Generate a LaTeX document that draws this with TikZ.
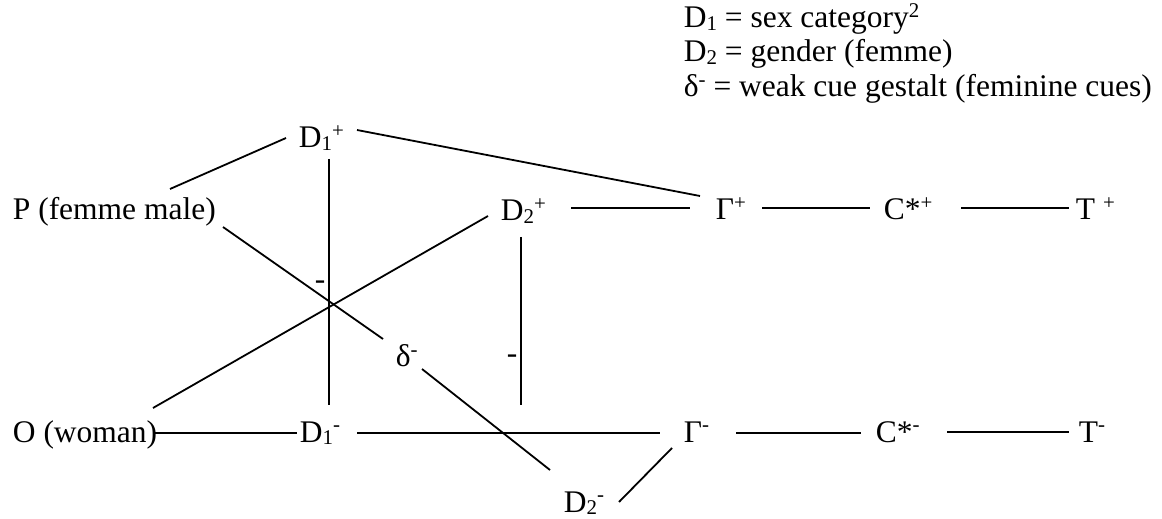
\documentclass[tikz,border=0pt]{standalone}
\usepackage{fontspec}
\setmainfont{LiberationSerif-Regular.ttf}
\newcommand\dsub[1]{\raisebox{-2.5bp}{\fontsize{21}{21}\selectfont #1}}
\newcommand\dsup[1]{\raisebox{10.5bp}{\fontsize{21}{21}\selectfont #1}}
\begin{document}
\begin{tikzpicture}[x=1bp,y=-1bp,line width=1.8bp,
  lbl/.style={inner sep=0pt,anchor=base west,font=\fontsize{31.6}{36}\selectfont}
]
  \useasboundingbox (0,0) rectangle (1162,519);
  % Legend
  \node[lbl] (leg1) at (683,28) {D\dsub{1} = sex category\dsup{2}};
  \node[lbl] (leg2) at (683,62) {D\dsub{2} = gender (femme)};
  \node[lbl] (leg3) at (683,97) {δ\dsup{-} = weak cue gestalt (feminine cues)};
  % Top row
  \node[lbl] (d1p) at (298,148) {D\dsub{1}\dsup{+}};
  \node[lbl] (p) at (12,220) {P (femme male)};
  \node[lbl] (d2p) at (500,221) {D\dsub{2}\dsup{+}};
  \node[lbl] (gp) at (715,220) {Γ\dsup{+}};
  \node[lbl] (cp) at (883,220) {C*\dsup{+}};
  \node[lbl] (tp) at (1075,220) {T \dsup{+}};
  % Middle
  \node[lbl] (dl) at (395,367) {δ\dsup{-}};
  \node[lbl,anchor=center] (m1) at (320,285) {-};
  \node[lbl,anchor=center] (m2) at (512,359) {-};
  % Bottom row
  \node[lbl] (o) at (12,442) {O (woman)};
  \node[lbl] (d1m) at (299,442) {D\dsub{1}\dsup{-}};
  \node[lbl] (gm) at (683,442) {Γ\dsup{-}};
  \node[lbl] (cm) at (875,442) {C*\dsup{-}};
  \node[lbl] (tm) at (1078,442) {T\dsup{-}};
  \node[lbl] (d2m) at (563,512) {D\dsub{2}\dsup{-}};
  \coordinate (d2end) at (521,405);
  % Connectors
  \draw ([shift={(158,-31)}]p.base west) -- ([shift={(-12,-10)}]d1p.base west);
  \draw ([shift={(59,-18)}]d1p.base west) -- ([shift={(-15,-24)}]gp.base west);
  \draw ([shift={(31,11)}]d1p.base west) -- ([shift={(30,-37)}]d1m.base west);
  \draw ([shift={(211,7)}]p.base west) -- ([shift={(-12,-28)}]dl.base west);
  \draw ([shift={(141,-34)}]o.base west) -- ([shift={(-12,-5)}]d2p.base west);
  \draw ([shift={(21,16)}]d2p.base west) -- (d2end);
  \draw ([shift={(27,2)}]dl.base west) -- ([shift={(-13,-42)}]d2m.base west);
  \draw ([shift={(56,-10)}]d2m.base west) -- ([shift={(-11,6)}]gm.base west);
  \draw ([shift={(141,-9)}]o.base west) -- ([shift={(-2,-9)}]d1m.base west);
  \draw ([shift={(58,-9)}]d1m.base west) -- ([shift={(-23,-9)}]gm.base west);
  \draw ([shift={(71,-13)}]d2p.base west) -- ([shift={(-25,-12)}]gp.base west);
  \draw ([shift={(47,-12)}]gp.base west) -- ([shift={(-13,-12)}]cp.base west);
  \draw ([shift={(78,-12)}]cp.base west) -- ([shift={(-6,-12)}]tp.base west);
  \draw ([shift={(53,-9)}]gm.base west) -- ([shift={(-14,-9)}]cm.base west);
  \draw ([shift={(72,-10)}]cm.base west) -- ([shift={(-9,-10)}]tm.base west);
\end{tikzpicture}
\end{document}
